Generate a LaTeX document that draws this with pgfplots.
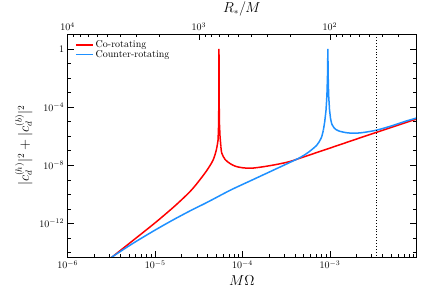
\documentclass[border=0pt]{standalone}
\usepackage{pgfplots}
\pgfplotsset{compat=1.18}
\definecolor{cred}{RGB}{255,0,0}
\definecolor{cblue}{RGB}{30,144,255}
\begin{document}
\begin{tikzpicture}
\begin{axis}[
  name=main,
  scale only axis, width=348pt, height=222.5pt,
  xmode=log, ymode=log,
  xmin=1e-6, xmax=9.64e-3, ymin=5e-15, ymax=10,
  axis line style={line width=0.8pt},
  xtick pos=left, xticklabel pos=left,
  ytick pos=both, yticklabel pos=left,
  tick align=inside,
  major tick length=6pt, minor tick length=3pt,
  every tick/.style={black, line width=0.6pt},
  xtick={1e-6,1e-5,1e-4,1e-3},
  minor xtick={2e-6,3e-6,4e-6,5e-6,6e-6,7e-6,8e-6,9e-6,2e-5,3e-5,4e-5,5e-5,6e-5,7e-5,8e-5,9e-5,2e-4,3e-4,4e-4,5e-4,6e-4,7e-4,8e-4,9e-4,2e-3,3e-3,4e-3,5e-3,6e-3,7e-3,8e-3,9e-3},
  ytick={1e-12,1e-8,1e-4,1},
  yticklabels={$10^{-12}$,$10^{-8}$,$10^{-4}$,$1$},
  minor ytick={1e-14,1e-13,1e-11,1e-10,1e-9,1e-7,1e-6,1e-5,1e-3,1e-2,1e-1,10},
  xlabel={$M\Omega$},
  ylabel={$|c_d^{(h)}|^2+|c_d^{(b)}|^2$},
  label style={font=\fontsize{13.5}{16}\selectfont},
  legend style={draw=none, fill=none, at={(rel axis cs:0.012,0.99)}, anchor=north west, row sep=-3pt, font=\normalsize},
  legend cell align=left,
]
% Co-rotating: left branch
\addplot[cred, line width=1.5pt, smooth] coordinates {
(2.818e-6,2.512e-15) (3.304e-6,5.623e-15) (5.623e-6,7.079e-14) (1e-5,1.122e-12)
(1.585e-5,1.175e-11) (2.089e-5,5.370e-11) (2.512e-5,1.585e-10) (2.965e-5,5.012e-10)
(3.855e-5,3.981e-9) (4.592e-5,2.239e-8) (5.012e-5,1.148e-7) (5.248e-5,5.495e-7)
};
\addlegendentry{Co-rotating}
% Co-rotating: resonance
\addplot[cred, line width=1.5pt, forget plot] coordinates {
(5.248e-5,5.495e-7) (5.321e-5,6.310e-6) (5.346e-5,1e-4) (5.364e-5,3.162e-3)
(5.374e-5,1) (5.385e-5,3.162e-3) (5.408e-5,1e-4) (5.445e-5,6.310e-6)
(5.521e-5,1e-6) (5.649e-5,1.995e-7)
};
% Co-rotating: right branch
\addplot[cred, line width=1.5pt, smooth, forget plot] coordinates {
(5.649e-5,1.995e-7) (5.781e-5,6.918e-8) (6.310e-5,2.512e-8) (7.194e-5,1.318e-8)
(8.318e-5,8.511e-9) (1e-4,6.761e-9) (1.259e-4,6.310e-9) (1.726e-4,7.943e-9)
(2.512e-4,1.175e-8) (3.491e-4,1.820e-8) (4.539e-4,3.090e-8) (7.943e-4,9.550e-8)
(1.306e-3,2.630e-7) (2.512e-3,1e-6) (3.981e-3,2.512e-6) (6.310e-3,6.310e-6)
(9.683e-3,1.479e-5)
};
% Counter-rotating: left branch
\addplot[cblue, line width=1.5pt, smooth] coordinates {
(2.818e-6,2.818e-15) (3.304e-6,5.623e-15) (5.623e-6,4.467e-14) (1e-5,3.548e-13)
(1.585e-5,1.698e-12) (2.512e-5,7.413e-12) (3.981e-5,2.951e-11) (7.194e-5,1.905e-10)
(1.216e-4,8.318e-10) (1.807e-4,2.512e-9) (2.512e-4,6.310e-9) (3.491e-4,1.585e-8)
(4.539e-4,3.388e-8) (5.623e-4,7.586e-8) (7.063e-4,2.399e-7) (7.943e-4,7.586e-7)
(8.395e-4,2.512e-6)
};
\addlegendentry{Counter-rotating}
% Counter-rotating: resonance
\addplot[cblue, line width=1.5pt, forget plot] coordinates {
(8.395e-4,2.512e-6) (8.710e-4,1e-5) (9.016e-4,6.310e-5) (9.226e-4,6.310e-4)
(9.376e-4,1.585e-2) (9.462e-4,1) (9.528e-4,1.585e-2) (9.661e-4,6.310e-4)
(9.886e-4,6.310e-5) (1.016e-3,1.585e-5) (1.047e-3,7.079e-6)
};
% Counter-rotating: right branch
\addplot[cblue, line width=1.5pt, smooth, forget plot] coordinates {
(1.047e-3,7.079e-6) (1.122e-3,3.548e-6) (1.259e-3,2.291e-6) (1.585e-3,1.698e-6)
(2.028e-3,1.622e-6) (2.512e-3,1.862e-6) (3.436e-3,2.630e-6) (5.012e-3,5.012e-6)
(7.079e-3,1e-5) (9.683e-3,1.738e-5)
};
\addplot[black, dotted, line width=0.9pt, forget plot] coordinates {(3.44e-3,1e-16) (3.44e-3,100)};
\end{axis}
\begin{axis}[
  scale only axis, width=348pt, height=222.5pt,
  xmode=log, x dir=reverse,
  xmin=22.08, xmax=1e4, ymin=0, ymax=1,
  axis x line*=top, axis y line=none,
  axis line style={line width=0.8pt},
  tick align=inside,
  major tick length=6pt, minor tick length=3pt,
  every tick/.style={black, line width=0.6pt},
  xtick={100,1000,10000},
  minor xtick={30,40,50,60,70,80,90,200,300,400,500,600,700,800,900,2000,3000,4000,5000,6000,7000,8000,9000},
  xlabel={$R_*/M$},
  label style={font=\fontsize{13.5}{16}\selectfont},
]
\addplot[draw=none] coordinates {(100,0.5)};
\end{axis}
\pgfresetboundingbox
\path ([shift={(-67.7pt,-39.3pt)}]main.south west) rectangle ([shift={(5pt,34.3pt)}]main.north east);
\end{tikzpicture}
\end{document}
